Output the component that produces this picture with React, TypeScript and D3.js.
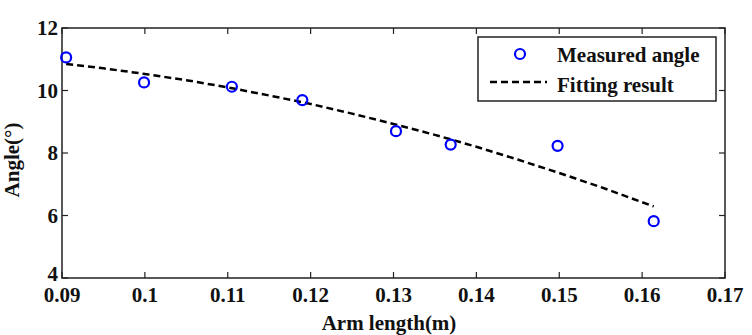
import React from "react";
import * as d3 from "d3";

const measuredX = [0.0905, 0.0999, 0.1105, 0.119, 0.1303, 0.1369, 0.1498, 0.1614];
const measuredY = [11.06, 10.26, 10.12, 9.69, 8.7, 8.27, 8.23, 5.82];

const fitX = [0.0905, 0.095, 0.1, 0.105, 0.11, 0.115, 0.12, 0.125, 0.13, 0.135, 0.14, 0.145, 0.15, 0.155, 0.1614];
const fitY = [10.85, 10.71, 10.53, 10.33, 10.1, 9.84, 9.57, 9.26, 8.93, 8.58, 8.2, 7.79, 7.36, 6.91, 6.29];

const xTicks = [0.09, 0.1, 0.11, 0.12, 0.13, 0.14, 0.15, 0.16, 0.17];
const yTicks = [4, 6, 8, 10, 12];

const W = 752, H = 335;
const M = { left: 62, top: 28, right: 725, bottom: 278 };
const FS = 21;
const txt: React.CSSProperties = { fontFamily: "Liberation Serif, serif", fontWeight: 700, fontSize: FS };

export default function App() {
  const x = d3.scaleLinear().domain([0.09, 0.17]).range([M.left, M.right]);
  const y = d3.scaleLinear().domain([4, 12]).range([M.bottom, M.top]);
  const line = d3.line<number>().x((_, i) => x(fitX[i])).y((d) => y(d));
  const tl = 6;
  return (
    <svg width={W} height={H} style={{ position: "absolute", left: 0, top: 0, background: "#fff" }}>
      <rect x={M.left} y={M.top} width={M.right - M.left} height={M.bottom - M.top} fill="none" stroke="#222" strokeWidth={1.5} />
      {xTicks.map((t) => (
        <g key={"x" + t}>
          <line x1={x(t)} x2={x(t)} y1={M.bottom} y2={M.bottom - tl} stroke="#222" strokeWidth={1.2} />
          <line x1={x(t)} x2={x(t)} y1={M.top} y2={M.top + tl} stroke="#222" strokeWidth={1.2} />
          <text x={x(t)} y={M.bottom + 24} textAnchor="middle" style={txt} fill="#111">
            {String(t)}
          </text>
        </g>
      ))}
      {yTicks.map((t) => (
        <g key={"y" + t}>
          <line x1={M.left} x2={M.left + tl} y1={y(t)} y2={y(t)} stroke="#222" strokeWidth={1.2} />
          <line x1={M.right} x2={M.right - tl} y1={y(t)} y2={y(t)} stroke="#222" strokeWidth={1.2} />
          <text x={M.left - 4} y={y(t) + (t === 4 ? 3 : 7)} textAnchor="end" style={txt} fill="#111">
            {t}
          </text>
        </g>
      ))}
      <path d={line(fitY) || ""} fill="none" stroke="#000" strokeWidth={2.5} strokeDasharray="7,4" />
      {measuredY.map((v, i) => (
        <circle key={i} cx={x(measuredX[i])} cy={y(v)} r={5} fill="none" stroke="#0000ff" strokeWidth={2.2} />
      ))}
      <text x={389} y={330} textAnchor="middle" style={txt} fill="#111">
        Arm length(m)
      </text>
      <text transform={`translate(19,160) rotate(-90)`} textAnchor="middle" style={txt} fill="#111">
        Angle(°)
      </text>
      <rect x={478} y={37} width={238} height={64} fill="#fff" stroke="#222" strokeWidth={1.5} />
      <circle cx={520} cy={54} r={5} fill="none" stroke="#0000ff" strokeWidth={2.2} />
      <text x={557} y={62} style={txt} fill="#111">Measured angle</text>
      <line x1={490} x2={547} y1={82} y2={82} stroke="#000" strokeWidth={2.5} strokeDasharray="7,4" />
      <text x={557} y={92} style={txt} fill="#111">Fitting result</text>
    </svg>
  );
}
